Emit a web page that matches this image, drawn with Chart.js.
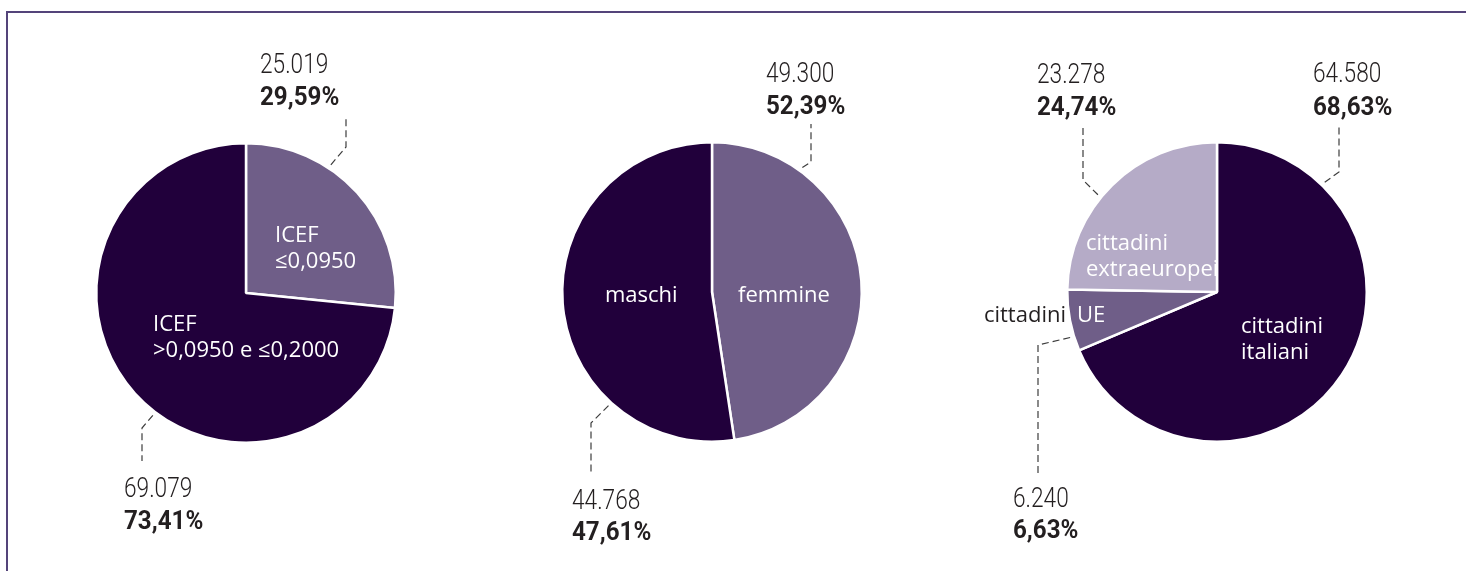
<!DOCTYPE html>
<html>
<head>
<meta charset="utf-8">
<script src="https://cdn.jsdelivr.net/npm/chart.js@4/dist/chart.umd.min.js"></script>
<style>
  body { margin: 0; background: #fff; }
  #wrap { position: relative; width: 1466px; height: 571px; overflow: hidden; }
  #cornice { position: absolute; left: 6px; top: 11px; right: -4px; bottom: -4px;
             border-top: 2px solid #54447a; border-left: 2px solid #54447a; }
  canvas { position: absolute; top: 0; }
</style>
</head>
<body>
<div id="wrap">
  <div id="cornice"></div>
  <canvas id="pie1" width="480" height="571" style="left:0px"></canvas>
  <canvas id="pie2" width="480" height="571" style="left:480px"></canvas>
  <canvas id="pie3" width="506" height="571" style="left:960px"></canvas>
</div>
<script>
// Dati: quote delle fette (come disegnate) e testi delle etichette
const etichetteIcef = ["ICEF ≤0,0950", "ICEF >0,0950 e ≤0,2000"];
const quoteIcef = [26.59, 73.41];
const valoriIcef = ["25.019", "69.079"];
const percIcef = ["29,59%", "73,41%"];

const etichetteGenere = ["femmine", "maschi"];
const quoteGenere = [47.61, 52.39];
const valoriGenere = ["49.300", "44.768"];
const percGenere = ["52,39%", "47,61%"];

const etichetteCittadinanza = ["cittadini italiani", "cittadini UE", "cittadini extraeuropei"];
const quoteCittadinanza = [68.63, 6.63, 24.74];
const valoriCittadinanza = ["64.580", "6.240", "23.278"];
const percCittadinanza = ["68,63%", "6,63%", "24,74%"];

// Colori
const SCURO = "#21003b";
const MEDIO = "#6f5e88";
const CHIARO = "#b5abc7";
const TESTO = "#231f20";

// scrive un testo con compressione orizzontale (font condensato)
function scritta(ctx, testo, x, y, font, sx, colore, align) {
  ctx.save();
  ctx.translate(x, y);
  ctx.scale(sx, 1);
  ctx.font = font;
  ctx.fillStyle = colore;
  ctx.textAlign = align || "left";
  ctx.textBaseline = "alphabetic";
  ctx.fillText(testo, 0, 0);
  ctx.restore();
}

// Plugin per etichette esterne con linee tratteggiate ed etichette interne
const etichettePlugin = {
  id: "etichette",
  afterDatasetsDraw(chart, args, opts) {
    const ctx = chart.ctx;
    const ox = opts.offsetX;
    const arcs = chart.getDatasetMeta(0).data;
    const valori = opts.valori;
    const perc = opts.perc;

    opts.esterne.forEach((e, i) => {
      const p = arcs[i].getProps(["x", "y", "startAngle", "endAngle", "outerRadius"], true);
      const a = p.startAngle + e.t * (p.endAngle - p.startAngle);
      const r = p.outerRadius + 4;
      ctx.save();
      ctx.strokeStyle = "#3c3c3c";
      ctx.lineWidth = 1.2;
      ctx.setLineDash([7, 4]);
      ctx.beginPath();
      ctx.moveTo(p.x + r * Math.cos(a), p.y + r * Math.sin(a));
      ctx.lineTo(e.gomito[0] - ox, e.gomito[1]);
      ctx.lineTo(e.gomito[0] - ox, e.fine);
      ctx.stroke();
      ctx.restore();
      scritta(ctx, valori[i], e.testo[0] - ox, e.testo[1], "300 27px Roboto", 0.84, TESTO);
      scritta(ctx, perc[i], e.testo[0] - ox, e.testo[2], "bold 26px Roboto", 0.93, TESTO);
    });

    opts.interne.forEach(t => {
      t.righe.forEach((riga, k) => {
        scritta(ctx, riga, t.x - ox, t.y + k * 26, "22px 'Open Sans'", 1, t.colore || "#ffffff", t.align);
      });
    });
  }
};

Chart.register(etichettePlugin);

function creaTorta(id, labels, quote, colori, padding, etichette) {
  const config = {
    type: "pie",
    data: {
      labels: labels,
      datasets: [
        {
          data: quote,
          backgroundColor: colori,
          borderColor: "#ffffff",
          borderWidth: 2.5,
        },
      ],
    },
    options: {
      responsive: false,
      animation: false,
      layout: { padding: padding },
      plugins: {
        legend: { display: false },
        tooltip: { enabled: false },
        etichette: etichette,
      },
    },
  };
  return new Chart(document.getElementById(id).getContext("2d"), config);
}

// Torta 1: ICEF
creaTorta("pie1", etichetteIcef, quoteIcef, [MEDIO, SCURO],
  { left: 95, right: 83, top: 142, bottom: 127 },
  {
    offsetX: 0,
    valori: valoriIcef,
    perc: percIcef,
    esterne: [
      { t: 0.35, gomito: [346, 147], fine: 117, testo: [260, 73, 105] },
      { t: 0.46, gomito: [142, 428], fine: 461, testo: [124, 497, 529] },
    ],
    interne: [
      { righe: ["ICEF", "≤0,0950"], x: 275, y: 242 },
      { righe: ["ICEF", ">0,0950 e ≤0,2000"], x: 153, y: 331 },
    ],
  });

// Torta 2: genere
creaTorta("pie2", etichetteGenere, quoteGenere, [MEDIO, SCURO],
  { left: 81, right: 97, top: 141, bottom: 128 },
  {
    offsetX: 480,
    valori: valoriGenere,
    perc: percGenere,
    esterne: [
      { t: 0.21, gomito: [811, 162], fine: 124, testo: [766, 82, 114] },
      { t: 0.27, gomito: [591, 423], fine: 473, testo: [572, 509, 540] },
    ],
    interne: [
      { righe: ["femmine"], x: 738, y: 302 },
      { righe: ["maschi"], x: 605, y: 302 },
    ],
  });

// Torta 3: cittadinanza
creaTorta("pie3", etichetteCittadinanza, quoteCittadinanza, [SCURO, MEDIO, CHIARO],
  { left: 106, right: 98, top: 141, bottom: 128 },
  {
    offsetX: 960,
    valori: valoriCittadinanza,
    perc: percCittadinanza,
    esterne: [
      { t: 0.18, gomito: [1339, 172], fine: 124, testo: [1313, 82, 115] },
      { t: 0.24, gomito: [1038, 345], fine: 473, testo: [1013, 507, 538] },
      { t: 0.43, gomito: [1083, 180], fine: 127, testo: [1037, 83, 115] },
    ],
    interne: [
      { righe: ["cittadini", "italiani"], x: 1241, y: 333 },
      { righe: ["cittadini"], x: 1066, y: 322, colore: TESTO, align: "right" },
      { righe: ["UE"], x: 1077, y: 322 },
      { righe: ["cittadini", "extraeuropei"], x: 1086, y: 250 },
    ],
  });
</script>
</body>
</html>
